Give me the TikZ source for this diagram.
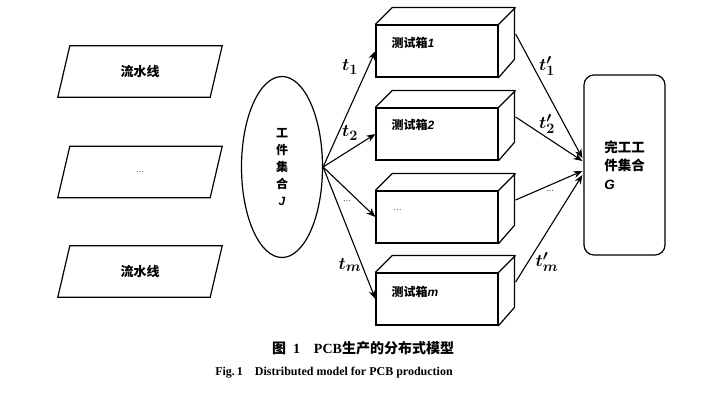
\documentclass[tikz,border=0pt]{standalone}
\usepackage{fontspec}
\setmainfont{Liberation Serif}
\setsansfont{Liberation Sans}
\newfontfamily\cjk{Noto Sans CJK SC}
\usetikzlibrary{shapes.geometric,arrows.meta,calc}
\tikzset{
  ln/.style={line width=1.2pt},
  para/.style={minimum width=152pt, minimum height=51pt, inner sep=0pt, font=\cjk\bfseries\fontsize{13}{15}\selectfont},
  cube/.style={draw, line width=1.2pt, minimum width=122pt, minimum height=52pt, inner sep=0pt},
  boxtxt/.style={anchor=west, inner sep=0pt, font=\cjk\bfseries\fontsize{12}{13}\selectfont},
  arr/.style={line width=1.1pt, -{Stealth[length=9pt,width=7pt]}},
  lbl/.style={font=\boldmath\fontsize{19}{19}\selectfont},
  dots/.style={font=\fontsize{8}{8}\selectfont}
}
\begin{document}
\begin{tikzpicture}[x=1pt,y=-1pt]
\useasboundingbox (0,0) rectangle (714,400);
% pipelines
\foreach \n/\y/\t in {p1/71.5/流水线, p2/172/{\normalfont\fontsize{8}{8}\selectfont …}, p3/271.5/流水线}{
  \node[para] (\n) at (140,\y) {\t};
  \draw[ln] ($(\n.north west)+(6,0)$) -- ($(\n.north east)+(6,0)$) -- ($(\n.south east)+(-6,0)$) -- ($(\n.south west)+(-6,0)$) -- cycle;
}
% workpiece set J
\node[ellipse, draw, ln, minimum width=81pt, minimum height=181pt, inner sep=0pt, align=center,
      font=\cjk\bfseries\fontsize{12}{17}\selectfont] (J) at (282,167)
  {工\\件\\集\\合\\{\sffamily\bfseries\itshape J}};
% test boxes
\node[cube] (b1) at (437,51) {};
\node[cube] (b2) at (437,134) {};
\node[cube] (b3) at (437,217) {};
\node[cube] (bm) at (437,299) {};
\foreach \b in {b1,b2,b3,bm}{
  \draw[ln, line join=round] (\b.north west) -- ++(17,-17) -- ++(122,0) -- ++(0,52) -- (\b.south east)
        (\b.north east) -- ++(17,-17);
  \coordinate (\b r) at ($(\b.east)+(17,-17)$);
}
\node[boxtxt] (t1) at ($(b1.north west)+(16,18)$) {测试箱{\sffamily\bfseries\itshape 1}};
\node[boxtxt] (t2) at ($(b2.north west)+(16,17)$) {测试箱{\sffamily\bfseries\itshape 2}};
\node[boxtxt, font=\fontsize{8}{8}\selectfont] (t3) at ($(b3.north west)+(18,20)$) {…};
\node[boxtxt] (tm) at ($(bm.north west)+(16,19)$) {测试箱{\sffamily\bfseries\itshape m}};
% finished set G
\node[draw, ln, rounded corners=10pt, minimum width=81pt, minimum height=180pt, align=left,
      font=\cjk\bfseries\fontsize{13.5}{18.5}\selectfont] (G) at (624.5,165)
  {完工工\\件集合\\{\sffamily\bfseries\itshape G}};
\coordinate (g1) at ($(G.west)+(-1,-7)$);
\coordinate (g2) at ($(G.west)+(-1,-4)$);
\coordinate (g3) at ($(G.west)+(-1,6)$);
\coordinate (gm) at ($(G.west)+(-1,10)$);
% arrows J -> boxes
\draw[arr] (J.east) -- (b1.west);
\draw[arr] (J.east) -- (b2.west);
\draw[arr] (J.east) -- (b3.west);
\draw[arr] (J.east) -- (bm.west);
% arrows boxes -> G
\draw[arr] (b1r) -- (g1);
\draw[arr] (b2r) -- (g2);
\draw[arr] (b3r) -- (g3);
\draw[arr] (bmr) -- (gm);
% labels
\node[lbl] (l1) at (350,67) {$t_1$};
\node[lbl] (l2) at (350,133) {$t_2$};
\node[dots] (l3) at (347,201) {…};
\node[lbl] (lm) at (350,265) {$t_m$};
\node[lbl] (r1) at (547,66) {$t'_1$};
\node[lbl] (r2) at (547,124) {$t'_2$};
\node[dots] (r3) at (550,191) {…};
\node[lbl] (rm) at (547,262) {$t'_m$};
% captions
\node[font=\fontsize{14}{16}\selectfont\bfseries] (cap1) at (363,348)
  {{\cjk\bfseries 图}\ \ 1\quad PCB{\cjk\bfseries 生产的分布式模型}};
\node[font=\fontsize{12}{14}\selectfont\bfseries] (cap2) at (334,373)
  {Fig.\,1\quad Distributed model for PCB production};
\end{tikzpicture}
\end{document}
